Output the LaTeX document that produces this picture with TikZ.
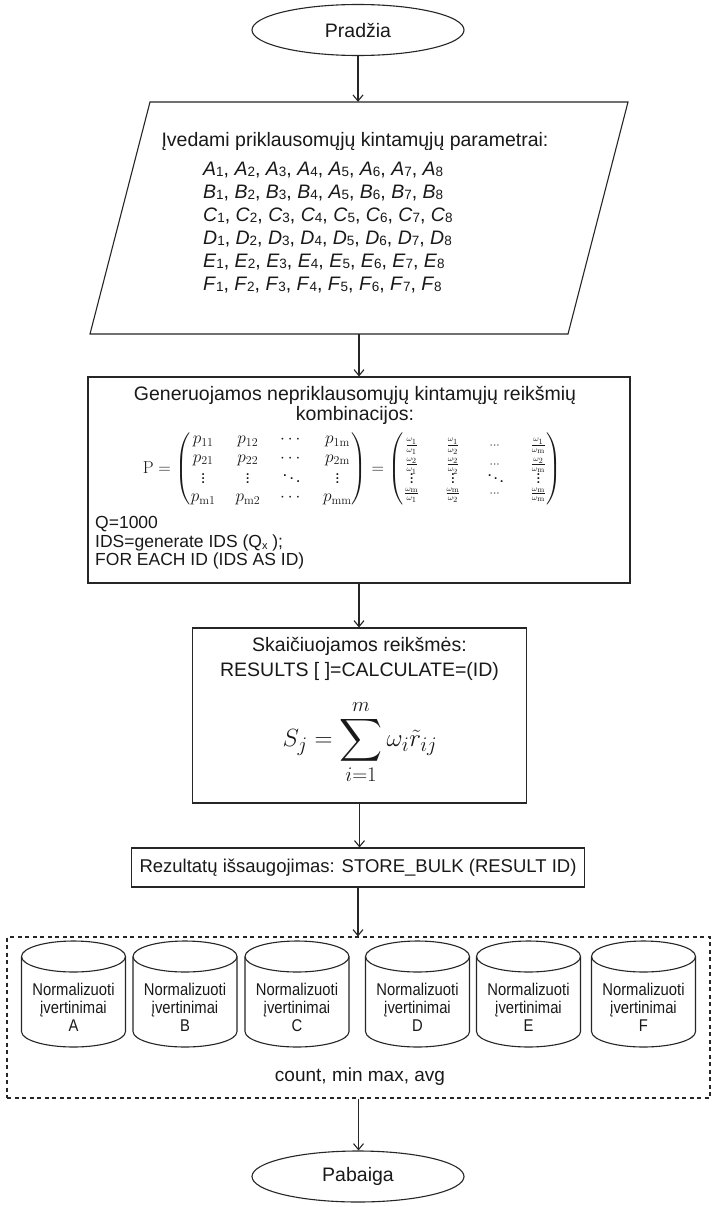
\documentclass[tikz,border=0pt]{standalone}
\usepackage{amsmath}
\usepackage{graphicx}
\usepackage[no-math]{fontspec}
\setmainfont{Liberation Sans}
\newfontfamily\narrowfont[FakeStretch=0.87]{Liberation Sans}
\usetikzlibrary{arrows.meta,shapes.geometric}

% italic variable with a small index digit
\newcommand\pvar[2]{\textit{#1}{\fontsize{13.5}{13.5}\selectfont\raisebox{-0.6pt}{#2}}}
% enlarged summation sign with limits
\newcommand\bigsum{\mathop{\vcenter{\hbox{\scalebox{1.2}{$\displaystyle\sum$}}}}\limits}
% small weight ratio
\newcommand\wratio[2]{\scriptstyle\frac{\omega_{#1}}{\omega_{#2}}}

\tikzset{
  line/.style={draw=black!85, line width=1.1pt},
  flow/.style={line, -{Straight Barb[length=6pt,width=10pt]}},
  term/.style={ellipse, line, minimum width=212pt, minimum height=51pt, inner sep=0pt,
               font=\fontsize{19.5}{22}\selectfont, text=black!90},
  procbox/.style={rectangle, line, inner sep=0pt, text=black!90},
  txt/.style={inner sep=0pt, text=black!90},
  cyltext/.style={txt, align=center, font=\narrowfont\fontsize{17}{18}\selectfont},
}

\begin{document}
\begin{tikzpicture}[x=1pt,y=1pt]
  \fill[white] (0,0) rectangle (712,-1207);
  \useasboundingbox (0,0) rectangle (712,-1207);

  % start
  \node[term] (start) at (358,-30) {Pradžia};

  % input parallelogram
  \node[txt, minimum width=10pt, minimum height=232pt] (input) at (359,-218) {};
  \draw[line, line join=miter] (150,-102) -- (628,-102) -- (568,-334) -- (90,-334) -- cycle;
  \node[txt, font=\fontsize{19.5}{22}\selectfont] (intitle) at (355,-141)
    {Įvedami priklausomųjų kintamųjų parametrai:};
  \node[txt, anchor=north west, align=left, font=\fontsize{19.5}{23}\selectfont] (inrows) at (203,-162)
    {\pvar A1, \pvar A2, \pvar A3, \pvar A4, \pvar A5, \pvar A6, \pvar A7, \pvar A8\\
     \pvar B1, \pvar B2, \pvar B3, \pvar B4, \pvar A5, \pvar B6, \pvar B7, \pvar B8\\
     \pvar C1, \pvar C2, \pvar C3, \pvar C4, \pvar C5, \pvar C6, \pvar C7, \pvar C8\\
     \pvar D1, \pvar D2, \pvar D3, \pvar D4, \pvar D5, \pvar D6, \pvar D7, \pvar D8\\
     \pvar E1, \pvar E2, \pvar E3, \pvar E4, \pvar E5, \pvar E6, \pvar E7, \pvar E8\\
     \pvar F1, \pvar F2, \pvar F3, \pvar F4, \pvar F5, \pvar F6, \pvar F7, \pvar F8};

  % combination generation
  \node[procbox, minimum width=542pt, minimum height=206pt] (gen) at (359,-480) {};
  \node[txt, align=center, font=\fontsize{19.5}{20}\selectfont] (gentitle) at (355,-405)
    {Generuojamos nepriklausomųjų kintamųjų reikšmių\\kombinacijos:};
  \node[txt, font=\fontsize{17}{18.5}\selectfont] (genmat) at (352,-469)
    {$\mathrm{P}=\arraycolsep=10pt\begin{pmatrix}
        p_{11} & p_{12} & \cdots & p_{1\mathrm{m}}\\
        p_{21} & p_{22} & \cdots & p_{2\mathrm{m}}\\
        \vdots & \vdots & \ddots & \vdots\\
        p_{\mathrm{m}1} & p_{\mathrm{m}2} & \cdots & p_{\mathrm{mm}}
      \end{pmatrix}=\arraycolsep=13pt\left(\begin{matrix}
        \wratio11 & \wratio12 & \scriptstyle\cdots & \wratio1{\mathrm{m}}\\
        \wratio21 & \wratio22 & \scriptstyle\cdots & \wratio2{\mathrm{m}}\\[-6pt]
        \scriptstyle\vdots & \scriptstyle\vdots & \scriptstyle\ddots & \scriptstyle\vdots\\[-6pt]
        \wratio{\mathrm{m}}1 & \wratio{\mathrm{m}}2 & \scriptstyle\cdots & \wratio{\mathrm{m}}{\mathrm{m}}
      \end{matrix}\right)$};
  \node[txt, anchor=west, align=left, font=\fontsize{17.5}{18.5}\selectfont] (genids) at (95,-543)
    {Q=1000\\IDS=generate IDS (Q{\fontsize{11}{11}\selectfont\raisebox{-2pt}{x}} );\\FOR EACH ID (IDS AS ID)};

  % calculation
  \node[procbox, minimum width=334pt, minimum height=175pt] (calc) at (359.5,-715.5) {};
  \node[txt, align=center, font=\fontsize{19.5}{25}\selectfont] (calctitle) at (359.5,-659)
    {Skaičiuojamos reikšmės:\\RESULTS [ ]=CALCULATE=(ID)};
  \node[txt, font=\fontsize{29}{32}\selectfont] (calcformula) at (360,-742)
    {$\displaystyle S_j=\bigsum_{i=1}^{m}\omega_i\tilde{r}_{ij}$};

  % storing
  \node[procbox, minimum height=39pt, inner xsep=8pt, font=\fontsize{18.5}{20}\selectfont] (store) at (358,-867.5)
    {Rezultatų išsaugojimas: STORE\_BULK (RESULT ID)};

  % normalised value stores
  \node[txt, draw=black!85, line width=1.2pt, dash pattern=on 4pt off 3.5pt,
        minimum width=703pt, minimum height=161pt] (group) at (358.5,-1017.5) {};
  \foreach \cx/\L/\nm in {73.5/A/a,185/B/b,297/C/c,417.5/D/d,528.5/E/e,643.5/F/f}{
    \draw[line] (\cx-52,-956.5) -- (\cx-52,-1031.5)
      arc[start angle=180,end angle=360,x radius=52,y radius=15.5] -- (\cx+52,-956.5);
    \draw[line] (\cx,-956.5) ellipse[x radius=52,y radius=15.5];
    \node[cyltext] (db\nm) at (\cx,-1007) {Normalizuoti\\įvertinimai\\\L};
  }
  \node[txt, font=\fontsize{19}{20}\selectfont] (stats) at (360,-1077) {count, min max, avg};

  % end
  \node[term] (stop) at (358,-1176.5) {Pabaiga};

  % connectors
  \draw[flow] (start.south) -- (start.south |- input.north);
  \draw[flow] (input.south) -- (input.south |- gen.north);
  \draw[flow] (gen.south) -- (gen.south |- calc.north);
  \draw[flow] (calc.south) -- (calc.south |- store.north);
  \draw[flow] (store.south) -- (store.south |- group.north);
  \draw[flow] (group.south) -- (group.south |- stop.north);
\end{tikzpicture}
\end{document}
